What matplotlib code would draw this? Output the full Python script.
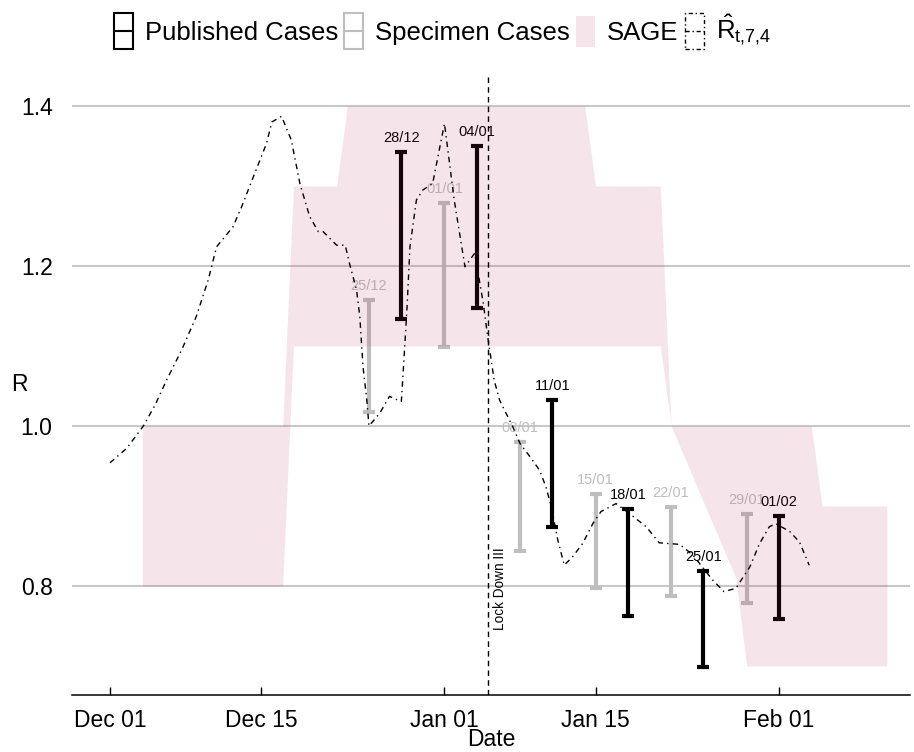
import datetime as dt
import numpy as np
import matplotlib
matplotlib.use('Agg')
import matplotlib.pyplot as plt
import matplotlib.dates as mdates
from matplotlib.patches import Rectangle, Patch
from matplotlib.lines import Line2D
from matplotlib.legend_handler import HandlerBase

plt.rcParams['font.family'] = ['Liberation Sans', 'DejaVu Sans']
plt.rcParams['mathtext.fontset'] = 'custom'
plt.rcParams['mathtext.rm'] = 'Liberation Sans'
plt.rcParams['mathtext.it'] = 'Liberation Sans'

#%% data

start = dt.datetime(2020, 12, 1)

pub_dates = ['2020-12-28', '2021-01-04', '2021-01-11', '2021-01-18', '2021-01-25', '2021-02-01']
pub_lo = [1.134, 1.1475, 0.874, 0.7625, 0.699, 0.759]
pub_hi = [1.343, 1.350, 1.032, 0.896, 0.819, 0.887]

spec_dates = ['2020-12-25', '2021-01-01', '2021-01-08', '2021-01-15', '2021-01-22', '2021-01-29']
spec_lo = [1.017, 1.099, 0.844, 0.7975, 0.787, 0.779]
spec_hi = [1.157, 1.279, 0.980, 0.915, 0.899, 0.890]

# SAGE range, days after 1 Dec
sage_day = [3, 16, 17, 21, 22, 44, 45, 51, 52, 58, 59, 65, 66, 72]
sage_lo = [0.8, 0.8, 1.1, 1.1, 1.1, 1.1, 1.1, 1.1, 1.0, 0.81, 0.7, 0.7, 0.7, 0.7]
sage_hi = [1.0, 1.0, 1.3, 1.3, 1.4, 1.4, 1.3, 1.3, 1.0, 1.0, 1.0, 1.0, 0.9, 0.9]

# R hat t,7,4, days after 1 Dec
rhat_day = [0.0, 1.54, 3.09, 4.17, 5.25, 6.64, 8.0, 9.1, 9.88, 11.4, 12.2, 13.3, 14.5,
            15.0, 15.9, 16.8, 17.6, 18.5, 19.3, 19.75, 21.0, 21.8, 22.2, 22.85, 23.15,
            23.45, 23.8, 24.0, 25.0, 25.9, 27.0, 27.2, 27.5, 27.8, 28.4, 29.0, 29.9,
            31.0, 31.9, 32.9, 33.8, 34.6, 35.0, 35.6, 36.1, 36.7, 37.3, 38.0, 38.9,
            39.8, 40.4, 40.9, 41.5, 42.1, 42.9, 43.8, 44.75, 45.5, 46.9, 48.1, 49.7,
            50.9, 52.8, 54.0, 55.85, 56.9, 58.0, 59.3, 60.2, 61.1, 61.7, 63.0, 63.9, 64.8]
rhat_val = [0.954, 0.972, 1.0, 1.026, 1.0575, 1.095, 1.137, 1.1825, 1.224, 1.249, 1.274,
            1.312, 1.353, 1.38, 1.387, 1.3575, 1.303, 1.262, 1.243, 1.243, 1.226, 1.226,
            1.203, 1.17, 1.137, 1.074, 1.0325, 1.0, 1.016, 1.037, 1.0305, 1.074, 1.141,
            1.224, 1.2825, 1.295, 1.303, 1.378, 1.2825, 1.199, 1.216, 1.153, 1.112,
            1.0575, 1.0325, 1.016, 1.0, 0.978, 0.962, 0.945, 0.924, 0.899, 0.8575, 0.826,
            0.837, 0.853, 0.878, 0.893, 0.903, 0.891, 0.874, 0.854, 0.852, 0.839, 0.8075,
            0.793, 0.797, 0.824, 0.853, 0.874, 0.878, 0.868, 0.855, 0.826]

lockdown = '2021-01-05'

#%% plot

t0 = mdates.date2num(start)
pink = '#B03060'
grey = '#BEBEBE'

fig = plt.figure(figsize=(9.14, 7.52), dpi=100)
ax = fig.add_axes([0.0788, 0.0758, 0.9168, 0.8245])


def errbars(dates, lo, hi, col):
    x = mdates.datestr2num(dates)
    lo = np.array(lo)
    hi = np.array(hi)
    mid = (lo + hi) / 2
    ax.errorbar(x, mid, yerr=[mid - lo, hi - mid], fmt='none', ecolor=col,
                elinewidth=3, capsize=4.3, capthick=3, zorder=2)
    for xi, yi, d in zip(x, hi, dates):
        lab = dt.datetime.strptime(d, '%Y-%m-%d').strftime('%d/%m')
        ax.annotate(lab, (xi, yi), xytext=(0, 5), textcoords='offset points',
                    ha='center', va='bottom', fontsize=10.5, color=col, zorder=2)


errbars(spec_dates, spec_lo, spec_hi, grey)
errbars(pub_dates, pub_lo, pub_hi, 'black')

ax.fill_between(t0 + np.array(sage_day), sage_lo, sage_hi, color=pink,
                alpha=0.12, lw=0, zorder=3)

ax.plot(t0 + np.array(rhat_day), rhat_val, color='black', lw=1,
        ls=(0, (4, 3, 1, 3)), zorder=4)

ld = mdates.datestr2num(lockdown)
ax.axvline(ld, color='black', lw=1, ls=(0, (4, 3)), zorder=4)
ax.annotate('Lock Down III', (ld, 0.745), xytext=(3.5, 0), textcoords='offset points',
            rotation=90, ha='left', va='bottom', fontsize=9.8)

ax.set_xlim(t0 - 3.52, t0 + 74.14)
ax.set_ylim(0.66375, 1.43875)
ax.set_yticks([0.8, 1.0, 1.2, 1.4])
ax.yaxis.set_major_formatter(plt.FormatStrFormatter('%.1f'))
ax.set_xticks(mdates.datestr2num(['2020-12-01', '2020-12-15', '2021-01-01',
                                  '2021-01-15', '2021-02-01']))
ax.xaxis.set_major_formatter(mdates.DateFormatter('%b %d'))

ax.grid(axis='y', color='#C8C8C8', lw=1.5)
ax.set_axisbelow(True)
for s in ['left', 'right', 'top']:
    ax.spines[s].set_visible(False)
ax.spines['bottom'].set_linewidth(1.1)
ax.tick_params(axis='x', direction='in', length=5.5, width=1, labelsize=16.5, pad=10)
ax.tick_params(axis='y', length=0, labelsize=16.5, pad=14)
ax.set_xlabel('Date', fontsize=16.5, labelpad=-3)
ax.set_ylabel('R', fontsize=16.5, rotation=0, va='center', ha='center')
ax.yaxis.set_label_coords(-0.063, 0.5)


class BoxHandler(HandlerBase):
    def __init__(self, col, ls='-', lw=1.5, face=None):
        super().__init__()
        self.col, self.ls, self.lw, self.face = col, ls, lw, face

    def create_artists(self, legend, orig_handle, xdescent, ydescent, width, height,
                       fontsize, trans):
        x0, y0 = -xdescent, -ydescent - 0.1 * height
        height = height * 1.2
        if self.face is not None:
            r = Rectangle((x0, y0), width, height * 0.85, facecolor=self.face, alpha=0.12,
                          lw=0, transform=trans)
            r.set_y(y0 + height * 0.075)
            return [r]
        r = Rectangle((x0, y0), width, height, fill=False, edgecolor=self.col,
                      lw=self.lw, ls=self.ls, transform=trans)
        m = Line2D([x0, x0 + width], [y0 + height / 2] * 2, color=self.col,
                   lw=self.lw, ls=self.ls, transform=trans)
        return [r, m]


h = [Patch(), Patch(), Patch(), Patch()]
labels = ['Published Cases', 'Specimen Cases', 'SAGE',
          r'$\hat{\mathrm{R}}_{\mathrm{t{,}7{,}4}}$']
hmap = {h[0]: BoxHandler('black'), h[1]: BoxHandler(grey),
        h[2]: BoxHandler(None, face=pink),
        h[3]: BoxHandler('black', ls=(0, (3, 2, 1, 2)), lw=1)}
fig.legend(h, labels, handler_map=hmap, loc='center', bbox_to_anchor=(0.484, 0.959),
           ncol=4, frameon=False, fontsize=18.5, handlelength=0.75, handleheight=1.45,
           handletextpad=0.45, columnspacing=0.25, borderpad=0)

fig.savefig('out.png', dpi=100)
